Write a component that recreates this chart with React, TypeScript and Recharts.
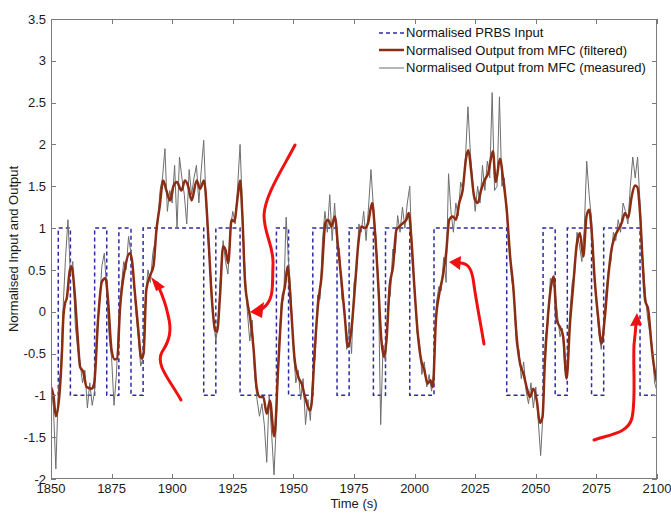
import React from "react";
import { LineChart, Line, XAxis, YAxis, Legend } from "recharts";

// PRBS input: switching instants (s) and the level held after each one
const prbsTimes = [
  1850, 1853, 1858, 1868, 1873, 1878, 1883, 1888, 1913, 1918, 1928, 1943, 1948, 1958,
  1968, 1973, 1983, 1988, 1998, 2008, 2038, 2053, 2058, 2063, 2073, 2078, 2093, 2100,
];
const prbsLevels = [
  -1, 1, -1, 1, -1, 1, -1, 1, -1, 1, -1, 1, -1, 1, -1, 1, -1, 1, -1, 1, -1, 1, -1, 1, -1, 1, -1, -1,
];

// filtered MFC output
const filteredTimes = [
  1850, 1851, 1852, 1853.6, 1854.5, 1855.1, 1855.8, 1856.5, 1857.8, 1858.5, 1859.7, 1861, 1862,
  1863.3, 1864.7, 1866.8, 1867.8, 1869.5, 1871, 1872.5, 1873.5, 1875, 1876.3, 1877.3, 1878.5,
  1880.4, 1882.5, 1883.4, 1884.5, 1885.9, 1887.3, 1888.2, 1889.3, 1890.7, 1892.3, 1893.5,
  1894.8, 1896.3, 1897.6, 1899.1, 1900.5, 1901.9, 1903.8, 1905.3, 1906.6, 1908, 1910.1,
  1911.5, 1913.1, 1914.9, 1916.3, 1917.7, 1918.5, 1919.7, 1921, 1922, 1923.1, 1924.5, 1925.6,
  1927, 1928, 1928.9, 1930, 1931.1, 1932.1, 1933.5, 1934.8, 1936.2, 1937.6, 1939, 1940.3,
  1942.1, 1943.8, 1945.4, 1946.5, 1947.6, 1949, 1950.4, 1952, 1953.4, 1954.8, 1956.8, 1957.5,
  1958.8, 1960.2, 1961.6, 1963.2, 1964.3, 1965.7, 1967.1, 1968.4, 1969.8, 1971.2, 1972.5,
  1973.9, 1975.4, 1976.8, 1978.1, 1979.5, 1980.8, 1982.5, 1983.6, 1984.9, 1986.3, 1987.4,
  1988.4, 1989.7, 1991.1, 1992.5, 1993.8, 1995.2, 1996.6, 1997.6, 1998.6, 1999.9, 2001.3,
  2002.7, 2004, 2005.4, 2006.5, 2007.5, 2008.8, 2010.2, 2011.6, 2013, 2014.3, 2015.7, 2017.1,
  2018.4, 2019.8, 2021.3, 2022.2, 2023.3, 2024.6, 2026, 2027.4, 2028.8, 2030.3, 2032.3,
  2033.5, 2035.2, 2036.6, 2038, 2039.4, 2040.7, 2042.1, 2043.5, 2044.9, 2046.2, 2047.6, 2049,
  2050.4, 2051.7, 2052.8, 2053.7, 2055.1, 2056.5, 2057.4, 2058.6, 2059.9, 2061.3, 2062.7,
  2064.1, 2065.4, 2066.8, 2068.2, 2069.6, 2070.9, 2072, 2073, 2074.3, 2075.7, 2077.1, 2078.5,
  2079.9, 2081.2, 2082.6, 2084, 2085.4, 2086.8, 2088.1, 2089.5, 2090.9, 2091.9, 2093, 2094.1,
  2095.1, 2096.4, 2097.8, 2098.8, 2100,
];
const filteredValues = [
  -0.9, -1.0, -1.25, -0.95, -0.5, -0.06, 0.1, 0.16, 0.5, 0.54, 0.25, -0.3, -0.66,
  -0.72, -0.9, -0.92, -0.86, -0.06, 0.36, 0.4, 0.15, -0.46, -0.57, -0.56, 0.05,
  0.5, 0.7, 0.62, 0.26, -0.18, -0.56, -0.5, 0.26, 0.42, 0.55, 0.98,
  1.25, 1.57, 1.45, 1.33, 1.5, 1.55, 1.45, 1.57, 1.5, 1.33, 1.57,
  1.47, 1.57, 0.9, 0.18, -0.22, -0.24, 0.18, 0.78, 0.74, 0.58, 1.1, 1.08,
  1.37, 1.57, 1.18, 0.38, 0.1, -0.06, -0.42, -0.9, -1.02, -1.02, -1.22, -1.06,
  -1.49, -0.62, 0.14, 0.3, 0.54, 0.06, -0.54, -0.78, -0.86, -1.02, -1.18, -1.1,
  -0.46, 0.1, 0.42, 1.06, 1.1, 1.02, 1.14, 0.78, 0.38, -0.06, -0.42,
  -0.22, 0.3, 0.82, 1.02, 1.0, 1.06, 1.3, 0.98, 0.38, -0.34, -0.54,
  -0.34, 0.3, 0.54, 0.98, 1.02, 1.06, 1.1, 1.18, 0.9, 0.3, -0.26,
  -0.58, -0.7, -0.86, -0.82, -0.9, -0.1, 0.22, 0.42, 0.7, 1.1, 1.14, 1.1,
  1.3, 1.45, 1.85, 1.93, 1.69, 1.37, 1.3, 1.45, 1.57, 1.65, 1.92,
  1.55, 1.83, 1.57, 1.22, 0.66, 0.3, -0.3, -0.62, -0.74, -0.9, -1.02, -0.92,
  -1.06, -1.33, -1.25, -0.62, -0.02, 0.34, 0.42, -0.1, -0.18, -0.3, -0.8,
  -0.14, 0.3, 0.78, 0.94, 0.66, 1.14, 1.22, 0.98, 0.38, -0.06, -0.38, -0.06,
  0.42, 0.74, 0.9, 0.98, 1.06, 1.18, 1.12, 1.37, 1.51, 1.49, 1.18, 0.58,
  0.14, 0.02, -0.42, -0.66, -0.85,
];

// raw measured output, one reading per second from 1850 s
const measuredStart = 1850;
const measuredValues = [
  -0.85, -1.15, -1.88, -0.95, -0.7, 0.05, 0.65, 1.1, 0.45, 0.6,
  -0.15, -0.45, -0.6, -0.85, -0.7, -1.15, -0.85, -1.12, -0.95, -0.2,
  0.1, 0.55, 0.7, 0.25, -0.3, -0.55, -1.12, -0.75, -0.05, 0.3,
  0.6, 0.5, 0.9, 0.7, 0.45, 0.0, -0.3, -0.65, -0.55, 0.15,
  0.5, 0.35, 0.7, 0.85, 1.05, 1.45, 1.6, 1.95, 1.2, 1.45,
  1.3, 1.75, 1.0, 1.85, 1.6, 1.4, 1.05, 1.7, 1.4, 1.6,
  1.75, 1.3, 1.7, 2.05, 1.3, 0.75, 0.4, -0.1, -0.35, -0.15,
  0.45, 0.85, 0.6, 0.45, 1.0, 1.2, 1.05, 1.5, 2.0, 1.2,
  0.5, 0.0, -0.35, -0.1, -0.75, -1.05, -1.25, -1.1, -1.35, -1.8,
  -1.0, -1.45, -1.95, -1.3, -0.4, 0.1, 0.15, 1.13, 0.6, 0.2,
  -0.45, -0.85, -0.7, -1.05, -0.8, -1.35, -1.05, -1.3, -0.75, -0.55,
  0.2, 0.15, 0.85, 1.2, 0.95, 1.4, 0.85, 1.3, 0.8, 0.75,
  0.15, 0.1, -0.45, -0.15, -0.5, 0.35, 0.45, 1.05, 0.95, 1.2,
  0.85, 1.25, 1.7, 1.25, 0.9, 0.4, -1.35, -0.4, -0.6, 0.1,
  0.2, 0.75, 0.7, 1.15, 0.95, 1.25, 1.0, 1.3, 1.5, 0.6,
  0.3, -0.25, -0.35, -0.75, -0.6, -0.9, -0.75, -0.95, -0.7, 0.1,
  0.3, 0.25, 0.65, 0.35, 1.65, 1.2, 0.95, 1.3, 1.15, 1.55,
  1.45, 1.85, 2.45, 1.9, 1.55, 1.2, 1.5, 1.3, 1.75, 1.45,
  1.8, 1.6, 2.62, 1.45, 1.5, 2.57, 1.5, 1.6, 1.15, 0.85,
  0.4, 0.2, -0.4, -0.45, -0.8, -0.6, -0.95, -1.1, -0.85, -1.15,
  -0.9, -1.3, -1.72, -1.2, -0.3, -0.15, 0.4, 0.35, 0.25, -0.05,
  -0.3, -0.2, -0.7, -0.75, -0.05, 0.35, 0.45, 0.95, 0.8, 0.6,
  1.0, 1.8, 1.4, 1.1, 0.55, 0.1, -0.25, -0.45, -0.15, 0.25,
  0.5, 0.6, 0.95, 0.85, 1.1, 0.95, 1.3, 1.2, 1.05, 1.5,
  1.85, 1.6, 1.85, 1.3, 0.7, 0.3, -0.05, -0.25, -0.4, -0.85,
  -0.95,
];

const xTicks = [1850, 1875, 1900, 1925, 1950, 1975, 2000, 2025, 2050, 2075, 2100];
const yTicks = [-2, -1.5, -1, -0.5, 0, 0.5, 1, 1.5, 2, 2.5, 3, 3.5];

const legendItems = [
  { label: "Normalised PRBS Input", color: "#2b2ba6", width: 1.5, dash: "4 3" },
  { label: "Normalised Output from MFC (filtered)", color: "#8a2d12", width: 2.5, dash: "" },
  { label: "Normalised Output from MFC (measured)", color: "#6e6e6e", width: 1, dash: "" },
];

const prbsData = prbsTimes.map((t, i) => ({ t, v: prbsLevels[i] }));
const filteredData = filteredTimes.map((t, i) => ({ t, v: filteredValues[i] }));
const measuredData = measuredValues.map((v, i) => ({ t: measuredStart + i, v }));

const font = "'Liberation Sans', Arial, sans-serif";
const axisColor = "#7a7a7a";
const xMin = 1850;
const xMax = 2100;
const yMin = -2;
const yMax = 3.5;

// plot box in page pixels
const W = 671;
const H = 517;
const PL = 51;
const PT = 19;
const PR = 657;
const PB = 479;
const xAxisHeight = 30;
const yAxisWidth = 45;

function LegendBox() {
  return (
    <div style={{ fontFamily: font, fontSize: 13, color: "#111", lineHeight: "17.5px" }}>
      {legendItems.map((it) => (
        <div key={it.label} style={{ display: "flex", alignItems: "center", whiteSpace: "nowrap" }}>
          <svg width={26} height={10} style={{ marginRight: 1 }}>
            <line x1={0} y1={5} x2={25} y2={5} stroke={it.color} strokeWidth={it.width} strokeDasharray={it.dash} />
          </svg>
          <span>{it.label}</span>
        </div>
      ))}
    </div>
  );
}

// axes box drawn as plain divs, with inward ticks on all four edges
function Frame() {
  const px = (t: number) => PL + ((t - xMin) / (xMax - xMin)) * (PR - PL);
  const py = (v: number) => PB - ((v - yMin) / (yMax - yMin)) * (PB - PT);
  const tick = (left: number, top: number, w: number, h: number, key: string) => (
    <div key={key} style={{ position: "absolute", left, top, width: w, height: h, background: axisColor }} />
  );
  return (
    <div style={{ position: "absolute", left: 0, top: 0, width: W, height: H, pointerEvents: "none", zIndex: 4 }}>
      <div
        style={{
          position: "absolute",
          left: PL,
          top: PT,
          width: PR - PL,
          height: PB - PT,
          border: `1px solid ${axisColor}`,
          boxSizing: "border-box",
        }}
      />
      {xTicks.map((t) => tick(Math.round(px(t)), PT, 1, 5, "tx" + t))}
      {xTicks.map((t) => tick(Math.round(px(t)), PB - 5, 1, 5, "bx" + t))}
      {yTicks.map((v) => tick(PL, Math.round(py(v)), 5, 1, "ly" + v))}
      {yTicks.map((v) => tick(PR - 5, Math.round(py(v)), 5, 1, "ry" + v))}
    </div>
  );
}

function Arrows() {
  // hand-drawn red annotation arrows laid over the plot
  const s = { fill: "none", stroke: "#f01010", strokeWidth: 3, strokeLinecap: "round" as const };
  return (
    <svg width={W} height={H} style={{ position: "absolute", left: 0, top: 0, zIndex: 5, pointerEvents: "none" }}>
      <path d="M181,400 C170,380 155,365 162,352 C170,340 172,330 168,315 C165,300 160,290 157,283" {...s} />
      <path d="M151,277 L165,287 L156,291 Z" fill="#f01010" />
      <path d="M295,145 C282,170 265,195 264,215 C264,235 274,245 273,265 C272,285 275,300 262,309" {...s} />
      <path d="M250,312 L264,302 L262,318 Z" fill="#f01010" />
      <path d="M484,344 C480,320 476,300 474,285 C472,268 468,262 458,263" {...s} />
      <path d="M449,262 L461,256 L460,270 Z" fill="#f01010" />
      <path d="M594,440 C612,434 628,433 632,418 C636,400 633,370 634,345 C635,335 636,327 636,322" {...s} />
      <path d="M637,313 L630,326 L642,325 Z" fill="#f01010" />
    </svg>
  );
}

export default function App() {
  return (
    <div style={{ position: "absolute", left: 0, top: 0, width: W, height: H, background: "#fff" }}>
      <LineChart
        width={W}
        height={H}
        margin={{ top: PT, right: W - PR, bottom: H - PB - xAxisHeight, left: PL - yAxisWidth }}
        style={{ fontFamily: font }}
      >
        <XAxis
          dataKey="t"
          type="number"
          domain={[xMin, xMax]}
          ticks={xTicks}
          allowDataOverflow
          height={xAxisHeight}
          tickSize={0}
          tickMargin={5}
          axisLine={false}
          tick={{ fill: "#1a1a1a", fontSize: 13 }}
          label={{ value: "Time (s)", position: "insideBottom", offset: 1, fill: "#1a1a1a", fontSize: 13 }}
        />
        <YAxis
          type="number"
          domain={[yMin, yMax]}
          ticks={yTicks}
          allowDataOverflow
          width={yAxisWidth}
          tickSize={0}
          tickMargin={5}
          axisLine={false}
          tick={{ fill: "#1a1a1a", fontSize: 13 }}
          label={{
            value: "Normalised Input and Output",
            angle: -90,
            position: "insideLeft",
            offset: 7,
            fill: "#1a1a1a",
            fontSize: 13,
            style: { textAnchor: "middle" },
          }}
        />
        <Legend
          layout="vertical"
          align="center"
          verticalAlign="middle"
          wrapperStyle={{ top: 24, left: 379, width: 290 }}
          content={() => <LegendBox />}
        />
        <Line
          data={prbsData}
          dataKey="v"
          type="stepAfter"
          stroke="#2b2ba6"
          strokeWidth={1.5}
          strokeDasharray="4 3"
          dot={false}
          isAnimationActive={false}
        />
        <Line
          data={measuredData}
          dataKey="v"
          type="linear"
          stroke="#6e6e6e"
          strokeWidth={1}
          dot={false}
          isAnimationActive={false}
        />
        <Line
          data={filteredData}
          dataKey="v"
          type="monotone"
          stroke="#8a2d12"
          strokeWidth={2.5}
          dot={false}
          isAnimationActive={false}
        />
      </LineChart>
      <Frame />
      <Arrows />
    </div>
  );
}
